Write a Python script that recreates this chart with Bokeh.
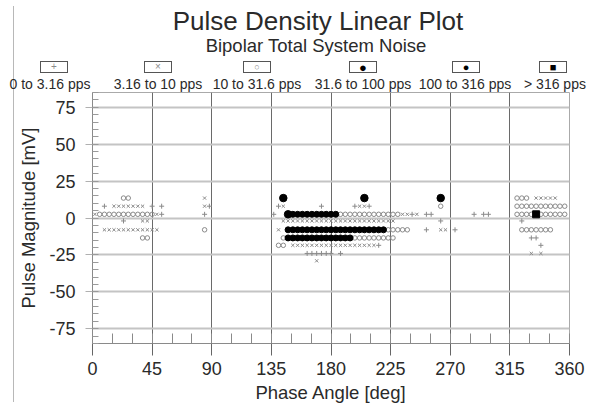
from bokeh.plotting import figure
from bokeh.layouts import row, column
from bokeh.models import Range1d, SingleIntervalTicker, Div
from bokeh.embed import file_html
from bokeh.resources import INLINE

# ---- axes ----------------------------------------------------------------
PHASE_MIN, PHASE_MAX = 0, 360
MAG_MIN, MAG_MAX = -85, 85
PHASE_TICKS = [0, 45, 90, 135, 180, 225, 270, 315, 360]
MAG_TICKS = [-75, -50, -25, 0, 25, 50, 75]

TITLE = "Pulse Density Linear Plot"
SUBTITLE = "Bipolar Total System Noise"

# ---- pulse density classes -------------------------------------------------
CLASS_LABELS = ["0 to 3.16 pps", "3.16 to 10 pps", "10 to 31.6 pps",
                "31.6 to 100 pps", "100 to 316 pps", "> 316 pps"]

# each class: magnitude row [mV] -> phase bins [deg] where that class occurs
class_0_3 = {
    8.0: [9.0, 45.0, 52.2, 88.2, 140.4, 172.8, 198.0, 208.8],
    2.5: [52.2, 84.6, 136.8, 241.2, 252.0, 255.6, 288.0, 295.2, 298.8],
    -2.0: [23.4, 262.8, 324.0],
    -8.0: [252.0, 273.6],
    -13.5: [331.2, 334.8],
    -18.5: [216.0, 338.4],
    -24.0: [162.0, 165.6, 169.2, 172.8, 176.4, 180.0, 187.2],
}
class_3_10 = {
    13.5: [84.6, 334.8, 338.4, 342.0, 345.6, 349.2],
    8.0: [16.2, 19.8, 23.4, 27.0, 30.6, 34.2, 37.8, 84.6, 144.0, 201.6, 205.2],
    2.5: [1.8, 48.6, 234.0, 237.6, 244.8],
    -2.0: [37.8, 41.4, 144.0, 147.6, 151.2, 154.8, 158.4, 162.0, 165.6, 169.2,
           172.8, 176.4, 180.0, 183.6, 187.2, 190.8, 194.4, 198.0, 201.6, 205.2,
           208.8, 212.4, 216.0, 219.6, 223.2, 226.8],
    -8.0: [9.0, 12.6, 16.2, 19.8, 23.4, 27.0, 30.6, 34.2, 37.8, 41.4, 45.0, 48.6,
           140.4, 262.8, 266.4],
    -18.5: [151.2, 154.8, 158.4, 162.0, 165.6, 169.2, 172.8, 176.4, 180.0, 183.6,
            187.2, 190.8, 194.4, 198.0, 201.6, 205.2, 208.8, 212.4],
    -24.0: [331.2, 338.4],
    -29.0: [169.2],
}
class_10_31 = {
    13.5: [23.4, 27.0, 320.4, 324.0, 327.6],
    8.0: [262.8, 320.4, 324.0, 327.6, 331.2, 334.8, 338.4, 342.0, 345.6, 349.2,
          352.8, 356.4],
    2.5: [5.4, 9.0, 12.6, 16.2, 19.8, 23.4, 27.0, 30.6, 34.2, 37.8, 41.4, 45.0,
          187.2, 190.8, 194.4, 198.0, 201.6, 205.2, 208.8, 212.4, 216.0, 219.6,
          223.2, 226.8, 230.4,
          320.4, 324.0, 327.6, 331.2, 338.4, 342.0, 345.6, 349.2, 352.8, 356.4],
    -8.0: [84.6, 223.2, 226.8, 230.4, 234.0, 237.6, 324.0, 327.6, 331.2, 334.8,
           338.4, 342.0, 345.6],
    -13.5: [37.8, 41.4, 144.0, 198.0, 201.6, 205.2, 208.8, 212.4, 216.0, 219.6,
            223.2, 226.8],
    -18.5: [140.4, 144.0],
}
class_31_100 = {
    13.5: [144.0, 205.2, 262.8],
    2.5: [147.6],
}
class_100_316 = {
    2.5: [151.2, 154.8, 158.4, 162.0, 165.6, 169.2, 172.8, 176.4, 180.0, 183.6],
    -8.0: [147.6, 151.2, 154.8, 158.4, 162.0, 165.6, 169.2, 172.8, 176.4, 180.0,
           183.6, 187.2, 190.8, 194.4, 198.0, 201.6, 205.2, 208.8, 212.4, 216.0,
           219.6],
    -13.5: [147.6, 151.2, 154.8, 158.4, 162.0, 165.6, 169.2, 172.8, 176.4, 180.0,
            183.6, 187.2, 190.8, 194.4],
}
class_over_316 = {
    2.5: [334.8],
}

CLASSES = [class_0_3, class_3_10, class_10_31, class_31_100, class_100_316, class_over_316]

# marker look for each density class
GRAY = "#8a8a8a"
STYLES = [
    dict(marker="cross", size=5, line_color=GRAY, fill_color=None, line_width=1),
    dict(marker="x", size=4.5, line_color=GRAY, fill_color=None, line_width=1),
    dict(marker="circle", size=4.5, line_color=GRAY, fill_color=None, line_width=1),
    dict(marker="circle", size=7.5, line_color="black", fill_color="black", line_width=1),
    dict(marker="circle", size=6, line_color="black", fill_color="black", line_width=1),
    dict(marker="square", size=7, line_color="black", fill_color="black", line_width=1),
]
# matching symbol for each legend box: (character, colour, font size)
LEGEND_SYMBOLS = [("+", GRAY, 10), ("\u00d7", GRAY, 10), ("\u25cb", GRAY, 9),
                  ("\u25cf", "#000", 13), ("\u25cf", "#000", 11), ("\u25a0", "#000", 11)]

FONT = "Liberation Sans"
TEXT = "#2a2a2a"

# ---- page layout (pixels) ----------------------------------------------------
W, H = 592, 408
RULE_W = 14                      # strip holding the page rule on the left
HEAD_H = 92                      # title + legend band
FRAME_L, FRAME_R, FRAME_B = 92, 569, 343
BOX_CX = [54, 158, 257, 363, 466, 553]
LABEL_CX = [50, 158, 257, 363, 465, 555]

# ---- header: title, subtitle and the density legend ---------------------------
def centred(cx, cy, inner, size):
    return (f'<div style="position:absolute;left:{cx - RULE_W}px;top:{cy}px;'
            f'transform:translate(-50%,-50%);white-space:nowrap;font-size:{size}px;'
            f'line-height:1">{inner}</div>')


parts = [centred(318, 21, TITLE, 26), centred(316, 46, SUBTITLE, 18.5)]
for cx, lx, label, (sym, col, fs) in zip(BOX_CX, LABEL_CX, CLASS_LABELS, LEGEND_SYMBOLS):
    parts.append(
        f'<div style="position:absolute;left:{cx - RULE_W - 14}px;top:61px;width:28px;'
        f'height:12px;box-sizing:border-box;border:1px solid #555;background:#fff;'
        f'display:flex;align-items:center;justify-content:center;">'
        f'<span style="color:{col};font-size:{fs}px;line-height:1">{sym}</span></div>')
    parts.append(centred(lx, 84, label, 14))

head = Div(text=(f'<div style="position:relative;width:{W - RULE_W}px;height:{HEAD_H}px;'
                 f'font-family:\'{FONT}\',sans-serif;color:{TEXT};background:#fff">'
                 + "".join(parts) + "</div>"),
           width=W - RULE_W, height=HEAD_H, margin=0)

# ---- main plot ----------------------------------------------------------------
p = figure(width=W - RULE_W, height=H - HEAD_H, output_backend="svg",
           toolbar_location=None,
           x_range=Range1d(PHASE_MIN, PHASE_MAX), y_range=Range1d(MAG_MIN, MAG_MAX),
           min_border_left=FRAME_L - RULE_W, min_border_right=W - FRAME_R,
           min_border_top=0, min_border_bottom=H - FRAME_B)
p.background_fill_color = "white"
p.border_fill_color = "white"
p.outline_line_color = "#aaaaaa"

p.xaxis.ticker = SingleIntervalTicker(interval=45, num_minor_ticks=3)
p.yaxis.ticker = SingleIntervalTicker(interval=25, num_minor_ticks=5)
p.yaxis.major_label_overrides = {t: str(t) for t in MAG_TICKS}
p.xaxis.major_label_overrides = {t: str(t) for t in PHASE_TICKS}
p.xaxis.axis_label = "Phase Angle [deg]"
p.yaxis.axis_label = "Pulse Magnitude [mV]"
for ax in (p.xaxis, p.yaxis):
    ax.axis_label_text_font = FONT
    ax.axis_label_text_font_size = "18.5px"
    ax.axis_label_text_font_style = "normal"
    ax.axis_label_text_color = TEXT
    ax.major_label_text_font = FONT
    ax.major_label_text_font_size = "18px"
    ax.major_label_text_color = TEXT
    ax.axis_line_color = "#8a8a8a"
    ax.major_tick_in = 0
    ax.minor_tick_out = 0
p.xaxis.major_tick_out = 12
p.xaxis.minor_tick_in = 10
p.xaxis.major_tick_line_color = "#666666"
p.xaxis.minor_tick_line_color = "#8a8a8a"
p.xaxis.major_label_standoff = 6
p.xaxis.axis_label_standoff = 4
p.yaxis.major_tick_out = 7
p.yaxis.minor_tick_in = 6
p.yaxis.major_tick_line_color = "#b0b0b0"
p.yaxis.minor_tick_line_color = "#9a9a9a"
p.yaxis.major_label_standoff = 10
p.yaxis.axis_label_standoff = 7

p.xgrid.grid_line_color = "#6a6a6a"
p.xgrid.grid_line_width = 1
p.ygrid.grid_line_color = "#c4c4c4"
p.ygrid.grid_line_width = 2

# pulse density markers
for cls, style in zip(CLASSES, STYLES):
    xs, ys = [], []
    for mag, phases in cls.items():
        xs.extend(phases)
        ys.extend([mag] * len(phases))
    p.scatter(xs, ys, **style)

# thin page rule down the left edge: a 1 px grey strip, pushed right by its margin
rule = Div(text="", width=1, height=H - 12, margin=(6, 0, 6, RULE_W - 1),
           styles={"background-color": "#b8b8b8"})

layout = row(rule, column(head, p, spacing=0), spacing=0)
open("out.html", "w").write(file_html(layout, INLINE))
